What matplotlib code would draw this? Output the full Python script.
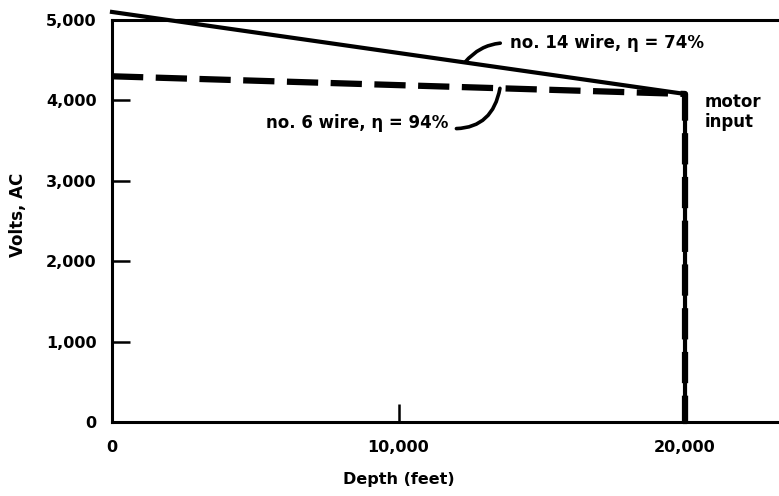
import matplotlib
matplotlib.use("Agg")
import matplotlib.pyplot as plt

# Data
depth_ft = [0, 20000, 20000]
volts_no14 = [5100, 4080, 0]   # no. 14 wire, eta = 74%
volts_no6 = [4300, 4080, 0]    # no. 6 wire, eta = 94%
xticks = [0, 10000, 20000]
xticklabels = ["0", "10,000", "20,000"]
yticks = [0, 1000, 2000, 3000, 4000, 5000]
yticklabels = ["0", "1,000", "2,000", "3,000", "4,000", "5,000"]

plt.rcParams['font.family'] = ['DejaVu Sans']
plt.rcParams['font.weight'] = 'bold'

fig = plt.figure(figsize=(7.79, 4.96), dpi=100)
ax = fig.add_axes([112/779, (496-422)/496, 1 - 112/779, (422-20)/496])
ax.set_xlim(0, 23280)
ax.set_ylim(0, 5000)

ax.plot(depth_ft, volts_no14, color='black', lw=3.0, clip_on=False,
        solid_joinstyle='miter', zorder=3)
ax.plot(depth_ft, volts_no6, color='black', lw=4.5, dashes=(5, 2),
        clip_on=False, zorder=3)

for s in ['left', 'bottom', 'top']:
    ax.spines[s].set_linewidth(2.2)
ax.spines['right'].set_visible(False)

ax.set_xticks(xticks)
ax.set_xticklabels(xticklabels)
ax.set_yticks(yticks)
ax.set_yticklabels(yticklabels)
ax.tick_params(axis='both', direction='in', length=13, width=1.8,
               labelsize=11.5)
ax.tick_params(axis='x', pad=13)
ax.tick_params(axis='y', pad=11)
for lab in ax.get_xticklabels() + ax.get_yticklabels():
    lab.set_fontweight('heavy')

ax.set_xlabel("Depth (feet)", fontsize=11.5, fontweight='heavy')
ax.xaxis.set_label_coords(10000 / 23280, -0.125)
ax.text(-0.141, 0.515, "Volts, AC", transform=ax.transAxes, rotation=90,
        fontsize=12, fontweight='heavy', ha='center', va='center')

ax.annotate("no. 14 wire, η = 74%", xy=(12320, 4475), xytext=(13890, 4714),
            fontsize=12, fontweight='heavy', ha='left', va='center',
            arrowprops=dict(arrowstyle='-', color='black', lw=2.6,
                            connectionstyle='arc3,rad=0.25',
                            relpos=(0, 0.5), shrinkA=5, shrinkB=0),
            annotation_clip=False)
ax.annotate("no. 6 wire, η = 94%", xy=(13540, 4150), xytext=(11730, 3719),
            fontsize=12, fontweight='heavy', ha='right', va='center',
            arrowprops=dict(arrowstyle='-', color='black', lw=2.6,
                            connectionstyle='arc3,rad=0.45',
                            relpos=(1, 0.2), shrinkA=4, shrinkB=0),
            annotation_clip=False)
ax.text(20700, 3856, "motor\ninput", fontsize=12, fontweight='heavy',
        ha='left', va='center', linespacing=1.15)

fig.savefig("out.png", dpi=100)
